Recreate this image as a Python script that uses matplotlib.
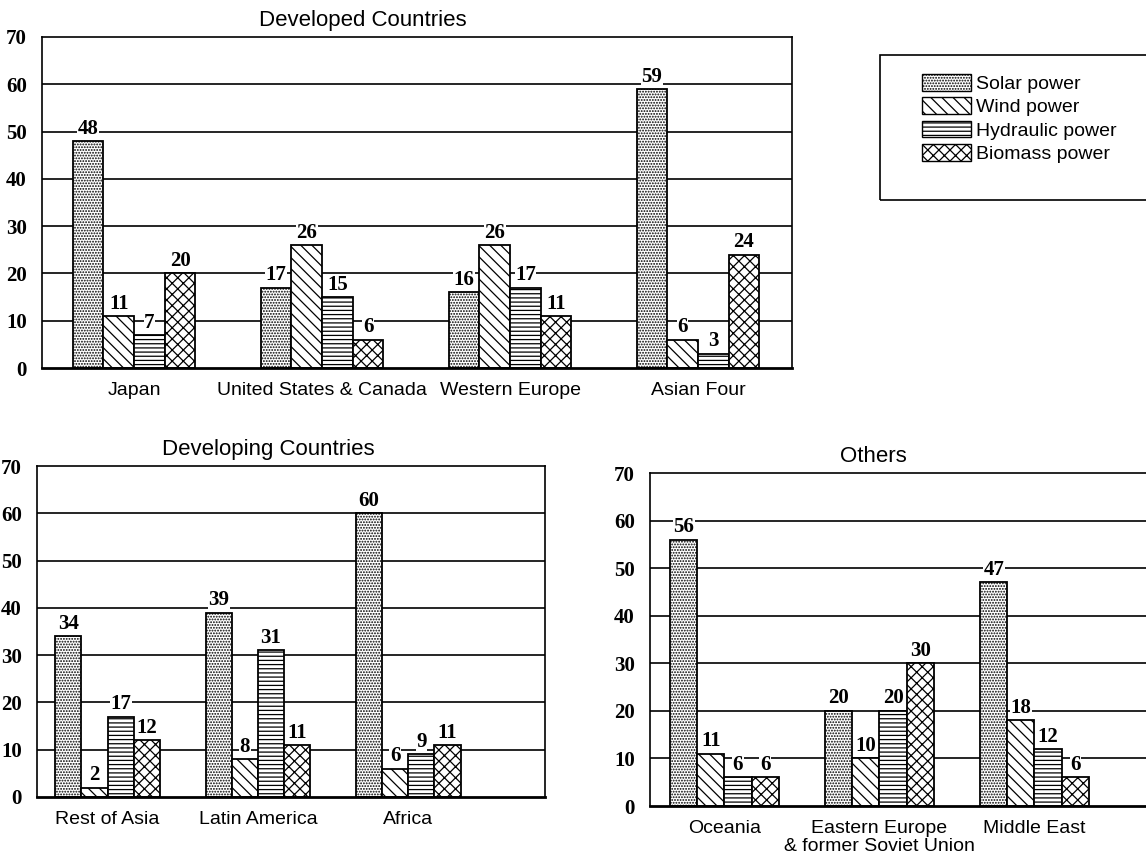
import matplotlib.pyplot as plt
from matplotlib.patches import Patch, Rectangle

sources = ["Solar power", "Wind power", "Hydraulic power", "Biomass power"]
hatches = ["......", "\\\\\\", "----", "xxx"]

developed_regions = ["Japan", "United States & Canada", "Western Europe", "Asian Four"]
developed_solar = [48, 17, 16, 59]
developed_wind = [11, 26, 26, 6]
developed_hydraulic = [7, 15, 17, 3]
developed_biomass = [20, 6, 11, 24]

developing_regions = ["Rest of Asia", "Latin America", "Africa"]
developing_solar = [34, 39, 60]
developing_wind = [2, 8, 6]
developing_hydraulic = [17, 31, 9]
developing_biomass = [12, 11, 11]

other_regions = ["Oceania", "Eastern Europe\n& former Soviet Union", "Middle East"]
other_solar = [56, 20, 47]
other_wind = [11, 10, 18]
other_hydraulic = [6, 20, 12]
other_biomass = [6, 30, 6]

plt.rcParams["hatch.linewidth"] = 0.9
SERIF = "Liberation Serif"
SANS = "Liberation Sans"

fig = plt.figure(figsize=(11.46, 8.58), dpi=100)


def panel(rect, title, title_x, regions, series, width, xlim):
    ax = fig.add_axes(rect)
    ax.set_xlim(*xlim)
    ax.set_ylim(0, 70)
    ax.set_yticks(range(0, 71, 10))
    for y in range(10, 70, 10):
        ax.axhline(y, color="black", lw=1.2, zorder=0)
    for i, (vals, h) in enumerate(zip(series, hatches)):
        xs = [g + (i - 1.5) * width for g in range(len(regions))]
        ax.bar(xs, vals, width, color="white", edgecolor="black",
               hatch=h, lw=1.3, zorder=2)
        for x, v in zip(xs, vals):
            ax.text(x, v + 0.5, str(v), ha="center", va="bottom",
                    family=SERIF, weight="bold", fontsize=15, zorder=3,
                    bbox=dict(facecolor="white", edgecolor="none", pad=0.3))
    ax.set_xticks(range(len(regions)))
    ax.set_xticklabels(regions, family=SANS, fontsize=14, linespacing=1.05)
    for lab in ax.get_yticklabels():
        lab.set_family(SERIF)
        lab.set_weight("bold")
        lab.set_fontsize(15)
    ax.tick_params(axis="both", length=0)
    ax.tick_params(axis="y", pad=11)
    ax.tick_params(axis="x", pad=10)
    for s in ax.spines.values():
        s.set_linewidth(1.2)
    ax.spines["bottom"].set_linewidth(2)
    ax.set_title(title, x=title_x, pad=8, family=SANS, fontsize=16)
    return ax


panel([42 / 1146, 1 - 368 / 858, 750 / 1146, 331 / 858], "Developed Countries", 0.428,
      developed_regions,
      [developed_solar, developed_wind, developed_hydraulic, developed_biomass],
      0.163, (-0.49, 3.5))

panel([37 / 1146, 1 - 797 / 858, 508 / 1146, 331 / 858], "Developing Countries", 0.455,
      developing_regions,
      [developing_solar, developing_wind, developing_hydraulic, developing_biomass],
      0.174, (-0.47, 2.91))

panel([650 / 1146, 1 - 806 / 858, 524 / 1146, 333 / 858], "Others", 0.426,
      other_regions,
      [other_solar, other_wind, other_hydraulic, other_biomass],
      0.175, (-0.48, 2.9))

# legend with a box that runs off the right edge
handles = [Patch(facecolor="white", edgecolor="black", hatch=h, lw=1.0) for h in hatches]
fig.legend(handles, sources, loc="upper left", bbox_to_anchor=(922 / 1146, 1 - 74 / 858),
           frameon=False, prop={"family": SANS, "size": 14},
           handlelength=2.5, handleheight=0.95, labelspacing=0.22,
           handletextpad=0.3, borderpad=0, borderaxespad=0)
fig.add_artist(Rectangle((880 / 1146, 1 - 200 / 858), 0.3, 145 / 858,
                         transform=fig.transFigure, fill=False, lw=1.2, color="black"))

fig.savefig("out.png", dpi=100)
